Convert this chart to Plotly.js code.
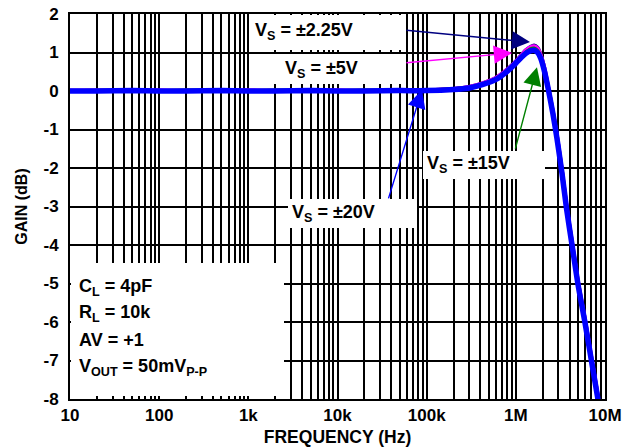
<!DOCTYPE html>
<html>
<head>
<meta charset="utf-8">
<script src="https://cdn.plot.ly/plotly-3.0.1.min.js"></script>
<style>
html,body{margin:0;padding:0;background:#fff;}
#chart{width:627px;height:447px;}
</style>
</head>
<body>
<div id="chart"></div>
<script>
// ---- data ----
const freq = [10, 20, 50, 100, 200, 500, 1e3, 2e3, 5e3, 1e4, 2e4, 5e4, 1e5, 2e5, 3e5, 4.3e5, 6e5, 8e5, 1e6, 1.15e6, 1.3e6, 1.45e6, 1.6e6, 1.75e6, 1.9e6, 2.1e6, 2.3e6, 2.6e6, 2.9e6, 3.3e6, 3.7e6, 4.3e6, 5e6, 6e6, 7.1e6, 8.4e6];
const gainVs225 = [0.01, 0.01, 0.02, 0.01, 0.01, 0.02, 0.01, 0.01, 0.02, 0.01, 0.01, 0.02, 0.03, 0.06, 0.11, 0.21, 0.35, 0.57, 0.78, 0.94, 1.07, 1.15, 1.19, 1.13, 0.96, 0.6, 0.14, -0.5, -1.15, -2.05, -2.95, -3.95, -4.95, -5.95, -6.95, -7.95];
const gainVs5   = [0.01, 0.02, 0.01, 0.02, 0.01, 0.01, 0.02, 0.01, 0.01, 0.02, 0.01, 0.02, 0.03, 0.06, 0.11, 0.21, 0.35, 0.56, 0.77, 0.93, 1.06, 1.14, 1.17, 1.12, 0.95, 0.6, 0.14, -0.5, -1.15, -2.05, -2.95, -3.95, -4.95, -5.95, -6.95, -7.95];
const gainVs15  = [0.0, 0.01, 0.01, 0.0, 0.02, 0.01, 0.0, 0.02, 0.01, 0.0, 0.02, 0.01, 0.02, 0.05, 0.09, 0.19, 0.32, 0.53, 0.74, 0.89, 1.01, 1.09, 1.11, 1.05, 0.9, 0.55, 0.11, -0.55, -1.2, -2.1, -3.0, -4.0, -5.0, -6.0, -7.0, -8.0];
const gainVs20  = [0.0, 0.0, 0.01, 0.0, 0.0, 0.01, 0.0, 0.0, 0.01, 0.0, 0.0, 0.01, 0.01, 0.04, 0.08, 0.17, 0.3, 0.51, 0.72, 0.87, 0.98, 1.04, 1.06, 1.0, 0.85, 0.5, 0.07, -0.58, -1.25, -2.15, -3.05, -4.05, -5.05, -6.05, -7.05, -8.05];
const seriesNames = ['V<sub>S</sub> = ±2.25V', 'V<sub>S</sub> = ±5V', 'V<sub>S</sub> = ±15V', 'V<sub>S</sub> = ±20V'];
const xTickVals = [];
const xTickText = [];
const decadeLabels = ['10', '100', '1k', '10k', '100k', '1M', '10M'];
for (let d = 1; d <= 7; d++) {
  xTickVals.push(Math.pow(10, d)); xTickText.push('<b>' + decadeLabels[d - 1] + '</b>');
  if (d < 7) for (let m = 2; m <= 9; m++) { xTickVals.push(m * Math.pow(10, d)); xTickText.push(''); }
}
const yTickVals = [-8, -7, -6, -5, -4, -3, -2, -1, 0, 1, 2];

// ---- geometry helpers (plot area in pixels) ----
const L = 70, R = 605, T = 14, B = 399;
const px = x => (x - L) / (R - L);
const py = y => (B - y) / (B - T);

const FONT = 'Liberation Sans, Arial, Helvetica, sans-serif';
const colors = ['#000080', '#ff00ff', '#008000', '#0000ff'];
const widths = [3.5, 3.5, 3.5, 5.5];
const gains = [gainVs225, gainVs5, gainVs15, gainVs20];

const traces = gains.map((g, i) => ({
  x: freq, y: g, type: 'scatter', mode: 'lines', name: seriesNames[i],
  line: {color: colors[i], width: widths[i], shape: 'spline', smoothing: 0.6}
}));

function box(x0, y0, x1, y1) {
  return {type: 'rect', xref: 'paper', yref: 'paper', x0: px(x0), x1: px(x1), y0: py(y1), y1: py(y0),
    fillcolor: '#ffffff', line: {width: 0}, layer: 'above'};
}
function label(text, x, y) {
  return {xref: 'paper', yref: 'paper', x: px(x), y: py(y), xanchor: 'left', yanchor: 'middle',
    text: '<b>' + text + '</b>', showarrow: false, font: {family: FONT, size: 18, color: '#000'}};
}
function arrow(color, hx, hy, tx, ty) {
  // head in data coords (log10 freq, gain), tail in pixel offsets
  return {x: hx, y: hy, xref: 'x', yref: 'y', text: '', showarrow: true, arrowcolor: color,
    arrowhead: 2, arrowsize: 2.6, arrowwidth: 1.4, ax: tx, ay: ty, axref: 'pixel', ayref: 'pixel', standoff: 0};
}

const layout = {
  width: 627, height: 447,
  margin: {l: L, r: 627 - R, t: T, b: 447 - B},
  paper_bgcolor: '#fff', plot_bgcolor: '#fff',
  showlegend: false,
  font: {family: FONT, color: '#000'},
  xaxis: {
    type: 'log', range: [1, 7], tickvals: xTickVals, ticktext: xTickText, tickangle: 0,
    showgrid: true, gridcolor: '#000', gridwidth: 2,
    showline: true, linecolor: '#000', linewidth: 2, mirror: true,
    ticks: '', tickfont: {family: FONT, size: 17, color: '#000'},
    zeroline: false,
    title: {text: '<b>FREQUENCY (Hz)</b>', font: {family: FONT, size: 17.5, color: '#000'}, standoff: 6}
  },
  yaxis: {
    range: [-8, 2], tickvals: yTickVals, ticktext: yTickVals.map(v => '<b>' + v + '</b>'),
    showgrid: true, gridcolor: '#000', gridwidth: 2,
    showline: true, linecolor: '#000', linewidth: 2, mirror: true,
    ticks: '', tickfont: {family: FONT, size: 17, color: '#000'}, ticklabelstandoff: 6,
    zeroline: false,
    title: {text: '<b>GAIN (dB)</b>', font: {family: FONT, size: 16, color: '#000'}, standoff: 12}
  },
  shapes: [
    box(249, 15, 405, 50),
    box(273, 54, 405, 84),
    box(423, 151, 545, 179),
    box(288, 199, 417, 228),
    box(71, 263, 284, 396)
  ],
  annotations: [
    label('V<sub>S</sub> = ±2.25V', 253, 31),
    label('V<sub>S</sub> = ±5V', 283, 69),
    label('V<sub>S</sub> = ±15V', 425, 164),
    label('V<sub>S</sub> = ±20V', 290, 213),
    label('C<sub>L</sub> = 4pF', 77, 287),
    label('R<sub>L</sub> = 10k', 77, 313),
    label('AV = +1', 77, 340),
    label('V<sub>OUT</sub> = 50mV<sub>P-P</sub>', 77, 367),
    arrow('#000080', 6.159, 1.27, -125, -12),
    arrow('#ff00ff', 5.957, 0.99, -107, 10),
    arrow('#008000', 6.237, 0.62, -22, 83),
    arrow('#0000ff', 4.948, 0.03, -34, 110)
  ]
};

Plotly.newPlot('chart', traces, layout, {staticPlot: true, displayModeBar: false});
</script>
</body>
</html>
